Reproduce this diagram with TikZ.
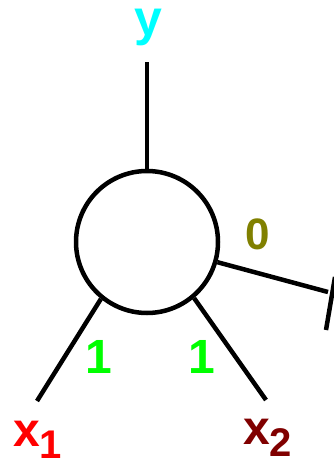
\documentclass[tikz,border=0pt]{standalone}
\usepackage{fontspec}
\setmainfont{Liberation Sans}
\usetikzlibrary{positioning}
\definecolor{ycyan}{HTML}{00FFFF}
\definecolor{xred}{HTML}{FF0000}
\definecolor{xdarkred}{HTML}{800000}
\definecolor{wgreen}{HTML}{00FF00}
\definecolor{wolive}{HTML}{808000}
\newcommand{\sublbl}[2]{#1\raisebox{-12pt}{\fontsize{40}{40}\selectfont #2}}

\begin{document}
\begin{tikzpicture}[x=1pt, y=-1pt,
    wire/.style={line width=4.5pt, black},
    lbl/.style={font=\fontsize{48}{48}\selectfont\bfseries, inner sep=0pt, anchor=base}]
          \useasboundingbox (0,0) rectangle (333,463);

          % Neurona
          \node[circle, draw, line width=4.5pt, minimum size=142pt, inner sep=0pt] (neuron) at (147,242) {};

          % Extremos libres
          \coordinate (ytop) at (147,62);
          \coordinate (xone) at (37,401);
          \coordinate (xtwo) at (266,400);
          \coordinate (bias) at (328,292);
          \coordinate (barup) at (335,277);
          \coordinate (bardown) at (326,330);

          % Conexiones
          \draw[wire] (neuron.90) -- (ytop);
          \draw[wire] (neuron.231) -- (xone);
          \draw[wire] (neuron.310) -- (xtwo);
          \draw[wire] (neuron.344) -- (bias);
          \draw[wire] (barup) -- (bardown);

          % Etiquetas
          \node[lbl, ycyan, font=\fontsize{50}{50}\selectfont\bfseries] (ylbl) at (148,35) {y};
          \node[lbl, xred] (xonelbl) at (37.5,446) {\sublbl{x}{1}};
          \node[lbl, xdarkred] (xtwolbl) at (267.5,444) {\sublbl{x}{2}};
          \node[lbl, wgreen] (wone) at (99,373) {1};
          \node[lbl, wgreen] (wtwo) at (201.5,373) {1};
          \node[lbl, wolive, font=\fontsize{44}{44}\selectfont\bfseries] (wzero) at (258,249) {0};
        \end{tikzpicture}
\end{document}
